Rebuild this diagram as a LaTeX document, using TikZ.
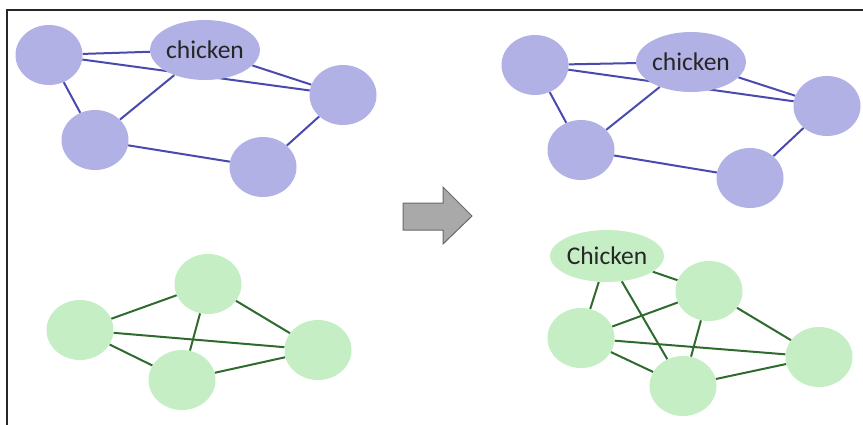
\documentclass[tikz,border=0pt]{standalone}
\usepackage{fontspec}
\setmainfont{Carlito}
\usetikzlibrary{shapes.geometric}
\pgfdeclarelayer{bg}
\pgfsetlayers{bg,main}
\definecolor{pfill}{HTML}{B1B1E6}
\definecolor{pedge}{HTML}{4A4AAE}
\definecolor{gfill}{HTML}{C5EEC5}
\definecolor{gedge}{HTML}{2F6A2F}
\definecolor{afill}{HTML}{A9A9A9}
\definecolor{aedge}{HTML}{6A6A6A}
\tikzset{
  pnode/.style={ellipse,fill=pfill,minimum width=67pt,minimum height=60pt,inner sep=0pt},
  gnode/.style={ellipse,fill=gfill,minimum width=67pt,minimum height=60pt,inner sep=0pt},
  plabel/.style={pnode,minimum width=106pt,font=\fontsize{25.5}{27}\selectfont,text=black!85},
  glabel/.style={gnode,minimum width=107pt,minimum height=52pt,font=\fontsize{25.5}{27}\selectfont,text=black!85},
  pe/.style={draw=pedge,line width=2pt},
  ge/.style={draw=gedge,line width=2pt},
  frame/.style={draw=black!85,line width=1.8pt},
  bigarrow/.style={draw=aedge,fill=afill,line width=1pt,line join=miter}
}
\begin{document}
\begin{tikzpicture}[x=1pt,y=-1pt]
\useasboundingbox (0,0) rectangle (863,424);
\coordinate (ftl) at (7,10);
\coordinate (ftr) at (866,10);
\coordinate (fbl) at (7,427);
\draw[frame] (ftr) -- (ftl) -- (fbl);
% top left graph
\node[pnode] (a1) at (49,55) {};
\node[plabel] (c1) at (205,50) {chicken};
\node[pnode] (r1) at (343,95) {};
\node[pnode] (d1) at (95,140) {};
\node[pnode] (e1) at (263,167) {};
% top right graph
\node[pnode] (a2) at (535,65) {};
\node[plabel] (c2) at (691,62) {chicken};
\node[pnode] (r2) at (827,106) {};
\node[pnode] (d2) at (581,150) {};
\node[pnode] (e2) at (750,178) {};
% bottom left graph
\node[gnode] (t3) at (208,284) {};
\node[gnode] (l3) at (80,330) {};
\node[gnode] (r3) at (318,350) {};
\node[gnode] (b3) at (182,380) {};
% bottom right graph
\node[glabel] (c4) at (607,256) {Chicken};
\node[gnode] (t4) at (709,291) {};
\node[gnode] (l4) at (581,338) {};
\node[gnode] (r4) at (819,357) {};
\node[gnode] (b4) at (683,386) {};
% edges
\begin{pgfonlayer}{bg}
\draw[pe] (a1) -- (c1);
\draw[pe] (a1) -- (r1);
\draw[pe] (a1) -- (d1);
\draw[pe] (c1) -- (r1);
\draw[pe] (c1) -- (d1);
\draw[pe] (d1) -- (e1);
\draw[pe] (e1) -- (r1);
\draw[pe] (a2) -- (c2);
\draw[pe] (a2) -- (r2);
\draw[pe] (a2) -- (d2);
\draw[pe] (c2) -- (r2);
\draw[pe] (c2) -- (d2);
\draw[pe] (d2) -- (e2);
\draw[pe] (e2) -- (r2);
\draw[ge] (l3) -- (t3);
\draw[ge] (t3) -- (r3);
\draw[ge] (t3) -- (b3);
\draw[ge] (l3) -- (r3);
\draw[ge] (l3) -- (b3);
\draw[ge] (b3) -- (r3);
\draw[ge] (c4) -- (l4);
\draw[ge] (c4) -- (t4);
\draw[ge] (c4) -- (b4);
\draw[ge] (l4) -- (t4);
\draw[ge] (t4) -- (b4);
\draw[ge] (t4) -- (r4);
\draw[ge] (l4) -- (r4);
\draw[ge] (l4) -- (b4);
\draw[ge] (b4) -- (r4);
\end{pgfonlayer}
% arrow
\draw[bigarrow] (403,203) -- (443,203) -- (443,187) -- (472,216) -- (443,244) -- (443,230) -- (403,230) -- cycle;
\end{tikzpicture}
\end{document}
